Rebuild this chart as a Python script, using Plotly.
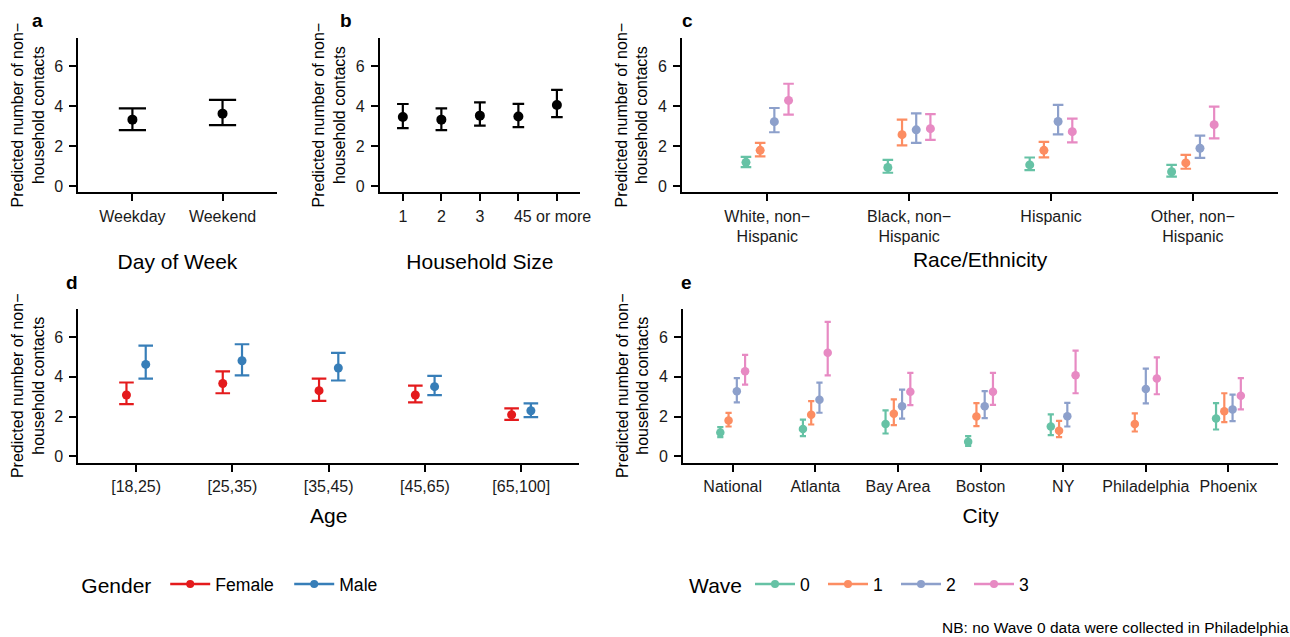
import plotly.graph_objects as go

# ---------------- data ----------------
day_categories = ["Weekday", "Weekend"]
day_est = [3.32, 3.62]
day_lo = [2.80, 3.05]
day_hi = [3.88, 4.31]

hh_categories = ["1", "2", "3", "4", "5 or more"]
hh_est = [3.45, 3.32, 3.52, 3.48, 4.05]
hh_lo = [2.90, 2.80, 3.02, 2.95, 3.45]
hh_hi = [4.10, 3.88, 4.18, 4.11, 4.81]

race_categories = ["White, non−<br>Hispanic", "Black, non−<br>Hispanic", "Hispanic", "Other, non−<br>Hispanic"]
waves = ["0", "1", "2", "3"]
race_est = {
    "0": [1.19, 0.93, 1.06, 0.72],
    "1": [1.79, 2.57, 1.79, 1.16],
    "2": [3.22, 2.81, 3.23, 1.89],
    "3": [4.28, 2.87, 2.72, 3.07],
}
race_lo = {
    "0": [0.95, 0.67, 0.80, 0.48],
    "1": [1.49, 2.04, 1.44, 0.87],
    "2": [2.69, 2.16, 2.59, 1.41],
    "3": [3.57, 2.31, 2.19, 2.39],
}
race_hi = {
    "0": [1.46, 1.31, 1.43, 1.06],
    "1": [2.16, 3.32, 2.21, 1.56],
    "2": [3.90, 3.63, 4.06, 2.52],
    "3": [5.11, 3.60, 3.37, 3.97],
}

age_categories = ["[18,25)", "[25,35)", "[35,45)", "[45,65)", "[65,100]"]
genders = ["Female", "Male"]
age_est = {"Female": [3.08, 3.66, 3.30, 3.08, 2.09], "Male": [4.62, 4.80, 4.44, 3.50, 2.29]}
age_lo = {"Female": [2.62, 3.17, 2.79, 2.71, 1.83], "Male": [3.90, 4.07, 3.81, 3.08, 1.97]}
age_hi = {"Female": [3.71, 4.27, 3.90, 3.55, 2.41], "Male": [5.56, 5.63, 5.20, 4.04, 2.66]}

city_categories = ["National", "Atlanta", "Bay Area", "Boston", "NY", "Philadelphia", "Phoenix"]
city_est = {
    "0": [1.20, 1.37, 1.63, 0.74, 1.50, None, 1.90],
    "1": [1.80, 2.09, 2.14, 2.00, 1.29, 1.63, 2.26],
    "2": [3.27, 2.84, 2.52, 2.52, 2.01, 3.38, 2.36],
    "3": [4.27, 5.21, 3.25, 3.25, 4.07, 3.91, 3.05],
}
city_lo = {
    "0": [0.97, 1.02, 1.15, 0.53, 1.07, None, 1.35],
    "1": [1.50, 1.60, 1.57, 1.52, 0.97, 1.25, 1.72],
    "2": [2.71, 2.19, 1.90, 1.92, 1.50, 2.66, 1.77],
    "3": [3.60, 4.07, 2.57, 2.59, 3.17, 3.12, 2.36],
}
city_hi = {
    "0": [1.47, 1.85, 2.31, 1.02, 2.11, None, 2.67],
    "1": [2.18, 2.77, 2.86, 2.67, 1.78, 2.16, 3.17],
    "2": [3.93, 3.70, 3.35, 3.28, 2.69, 4.41, 3.10],
    "3": [5.10, 6.75, 4.19, 4.19, 5.31, 4.97, 3.93],
}

y_title = "Predicted number of non−<br>household contacts"
y_ticks = [0, 2, 4, 6]
wave_colors = {"0": "#66C2A5", "1": "#FC8D62", "2": "#8DA0CB", "3": "#E78AC3"}
gender_colors = {"Female": "#E41A1C", "Male": "#377EB8"}
FONT = "Arial, Liberation Sans, sans-serif"
DODGE = 0.4

W, H = 1290, 637


def dx(x0, x1):
    return [x0 / W, x1 / W]


def dy(top, bottom):
    return [1 - bottom / H, 1 - top / H]


fig = go.Figure()


def add_points(xs, est, lo, hi, color, xa, ya, cap, msize):
    pts = [(x, e, l, h) for x, e, l, h in zip(xs, est, lo, hi) if e is not None]
    fig.add_trace(go.Scatter(
        x=[p[0] for p in pts], y=[p[1] for p in pts],
        mode="markers", marker=dict(color=color, size=msize),
        error_y=dict(type="data", symmetric=False,
                     array=[p[3] - p[1] for p in pts],
                     arrayminus=[p[1] - p[2] for p in pts],
                     color=color, thickness=2.2, width=cap),
        xaxis=xa, yaxis=ya, showlegend=False, hoverinfo="skip"))


def dodge_positions(groups, present_by_cat):
    # ggplot position_dodge style: groups present in a category share the dodge width
    pos = {g: [] for g in groups}
    for ci, present in enumerate(present_by_cat):
        n = len(present)
        for g in groups:
            if g in present:
                i = present.index(g)
                pos[g].append(ci + 1 + (i - (n - 1) / 2) * DODGE / n)
            else:
                pos[g].append(None)
    return pos


# panel a
add_points([1, 2], day_est, day_lo, day_hi, "black", "x", "y", 13.6, 10)
# panel b
add_points(list(range(1, 6)), hh_est, hh_lo, hh_hi, "black", "x2", "y2", 5.8, 10)
# panel c
present_c = [[w for w in waves if race_est[w][i] is not None] for i in range(len(race_categories))]
pos_c = dodge_positions(waves, present_c)
for w in waves:
    add_points(pos_c[w], race_est[w], race_lo[w], race_hi[w], wave_colors[w], "x3", "y3", 5.3, 9)
# panel d
present_d = [genders for _ in age_categories]
pos_d = dodge_positions(genders, present_d)
for g in genders:
    add_points(pos_d[g], age_est[g], age_lo[g], age_hi[g], gender_colors[g], "x4", "y4", 7.3, 9)
# panel e
present_e = [[w for w in waves if city_est[w][i] is not None] for i in range(len(city_categories))]
pos_e = dodge_positions(waves, present_e)
for w in waves:
    add_points(pos_e[w], city_est[w], city_lo[w], city_hi[w], wave_colors[w], "x5", "y5", 3.1, 8.5)

# legend entries
for g in genders:
    fig.add_trace(go.Scatter(x=[None], y=[None], mode="lines+markers", name=g,
                             line=dict(color=gender_colors[g], width=2.5),
                             marker=dict(color=gender_colors[g], size=8),
                             legend="legend", showlegend=True))
for w in waves:
    fig.add_trace(go.Scatter(x=[None], y=[None], mode="lines+markers", name=w,
                             line=dict(color=wave_colors[w], width=2.5),
                             marker=dict(color=wave_colors[w], size=8),
                             legend="legend2", showlegend=True))


def xaxis(domain, anchor, cats, title, standoff):
    n = len(cats)
    return dict(domain=domain, anchor=anchor, range=[0.4, n + 0.6],
                tickvals=list(range(1, n + 1)), ticktext=cats, tickangle=0,
                showline=True, linewidth=2, linecolor="black",
                ticks="outside", ticklen=7, tickwidth=2, tickcolor="black",
                showgrid=False, zeroline=False, ticklabelstandoff=1,
                tickfont=dict(size=16, color="#1a1a1a", family=FONT),
                title=dict(text=title, font=dict(size=21, color="black", family=FONT),
                           standoff=standoff))


def yaxis(domain, anchor):
    return dict(domain=domain, anchor=anchor, range=[-0.31, 7.4],
                tickvals=y_ticks, showline=True, linewidth=2, linecolor="black",
                ticks="outside", ticklen=7, tickwidth=2, tickcolor="black",
                showgrid=False, zeroline=False, ticklabelstandoff=3,
                tickfont=dict(size=16, color="#1a1a1a", family=FONT),
                title=dict(text=y_title, font=dict(size=16, color="black", family=FONT),
                           standoff=6))


top = dy(38, 193)
bot = dy(310, 464)
fig.update_layout(
    xaxis=xaxis(dx(79, 279), "y", day_categories, "Day of Week", 31),
    yaxis=yaxis(top, "x"),
    xaxis2=xaxis(dx(383, 585), "y2", hh_categories, "Household Size", 31),
    yaxis2=yaxis(top, "x2"),
    xaxis3=xaxis(dx(688, 1289), "y3", race_categories, "Race/Ethnicity", 8),
    yaxis3=yaxis(top, "x3"),
    xaxis4=xaxis(dx(79, 584), "y4", age_categories, "Age", 15),
    yaxis4=yaxis(bot, "x4"),
    xaxis5=xaxis(dx(689, 1289), "y5", city_categories, "City", 15),
    yaxis5=yaxis(bot, "x5"),
)

fig.update_layout(
    width=W, height=H, margin=dict(l=0, r=0, t=0, b=0),
    paper_bgcolor="white", plot_bgcolor="white",
    font=dict(family=FONT, color="black"),
    legend=dict(title=dict(text="Gender&nbsp;", side="left", font=dict(size=21)),
                orientation="h", x=80 / W, y=1 - 587 / H, xanchor="left", yanchor="middle",
                font=dict(size=17.6), itemwidth=40, entrywidth=69, entrywidthmode="pixels",
                bgcolor="rgba(0,0,0,0)"),
    legend2=dict(title=dict(text="Wave", side="left", font=dict(size=21)),
                 orientation="h", x=693 / W, y=1 - 587 / H, xanchor="left", yanchor="middle",
                 font=dict(size=17.6), itemwidth=40, entrywidth=18, entrywidthmode="pixels",
                 bgcolor="rgba(0,0,0,0)"),
)

for label, x, y in [("a", 38, 21), ("b", 349, 21), ("c", 693, 21), ("d", 73, 283), ("e", 692, 283)]:
    fig.add_annotation(text="<b>%s</b>" % label, x=x / W, y=1 - y / H, xref="paper", yref="paper",
                       showarrow=False, xanchor="center", yanchor="middle",
                       font=dict(size=19, family=FONT, color="black"))

fig.add_annotation(text="NB: no Wave 0 data were collected in Philadelphia",
                   x=1302 / W, y=1 - 629 / H, xref="paper", yref="paper", showarrow=False,
                   xanchor="right", yanchor="middle", font=dict(size=15.5, family=FONT, color="black"))

fig.write_html("out.html", config={"displayModeBar": False},
               post_script="document.body.style.margin='0';")
